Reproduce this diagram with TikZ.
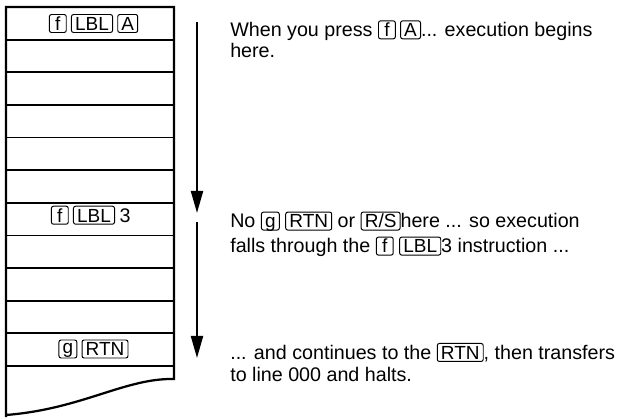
\documentclass[tikz,border=0pt]{standalone}
\usepackage{fontspec}
\setmainfont{Liberation Sans}
\usetikzlibrary{arrows.meta,positioning}
\tikzset{
  keycap/.style={rectangle, rounded corners=1.5pt, draw=black, line width=0.7pt,
                 inner xsep=2.6pt, inner ysep=1.5pt, minimum width=12pt,
                 text height=9.8pt, text depth=0pt, font=\fontsize{13.5}{15}\selectfont},
  frame/.style={line width=1.6pt, line join=miter},
  rowline/.style={line width=1.3pt},
  flow/.style={-{Triangle[length=0.55cm, width=0.3cm]}, line width=1.5pt},
  note/.style={anchor=base west, align=left, inner sep=0pt,
               font=\fontsize{14}{14.9}\selectfont},
}
\newcommand{\keycap}[1]{\tikz[baseline=(k.base)]\node[keycap] (k) {#1};}

\begin{document}
\begin{tikzpicture}[x=0.025cm, y=-0.025cm]
\useasboundingbox (0,0) rectangle (624,418);

% ===================== program memory =====================
\foreach \i in {1,...,11}
  \draw[rowline] (6,7+32.64*\i) -- (174,7+32.64*\i);
\draw[frame] (6,417) -- (6,7) -- (174,7) -- (174,379)
  .. controls (125,378) and (82,409) .. (6,415);

% keys in the rows
\node[keycap] (lblA) at (92,23.5) {LBL};
\node[keycap, left=3pt of lblA] (fA) {f};
\node[keycap, right=3pt of lblA] (keyA) {A};

\node[keycap] (lbl3) at (94,215.2) {LBL};
\node[keycap, left=3pt of lbl3] (f3) {f};
\node[base right=3pt of lbl3, inner sep=0pt, font=\fontsize{14}{15}\selectfont] (num3) {3};

\node[keycap] (rtnG) at (105,349) {RTN};
\node[keycap, left=3pt of rtnG] (keyG) {\raisebox{1.6pt}{g}};

% ===================== flow of execution =====================
\coordinate (fl1) at (197,22);
\coordinate (fl2) at (197,213);
\coordinate (fl3) at (197,222);
\coordinate (fl4) at (197,358);
\draw[flow] (fl1) -- (fl2);
\draw[flow] (fl3) -- (fl4);

% ===================== notes =====================
\node[note] (n1) at (230,57.7)
  {When you press \keycap{f}\hspace{3pt}\keycap{A}... execution begins\\ here.};
\node[note] (n2) at (230,253)
  {No \keycap{g} \keycap{RTN} or \keycap{R/S}here ... so execution\\[2.9pt]
   falls through the \keycap{f} \keycap{LBL}3 instruction ...};
\node[note] (n3) at (230,382)
  {... and continues to the \keycap{RTN}, then transfers\\[1.2pt]
   to line 000 and halts.};

\end{tikzpicture}
\end{document}
